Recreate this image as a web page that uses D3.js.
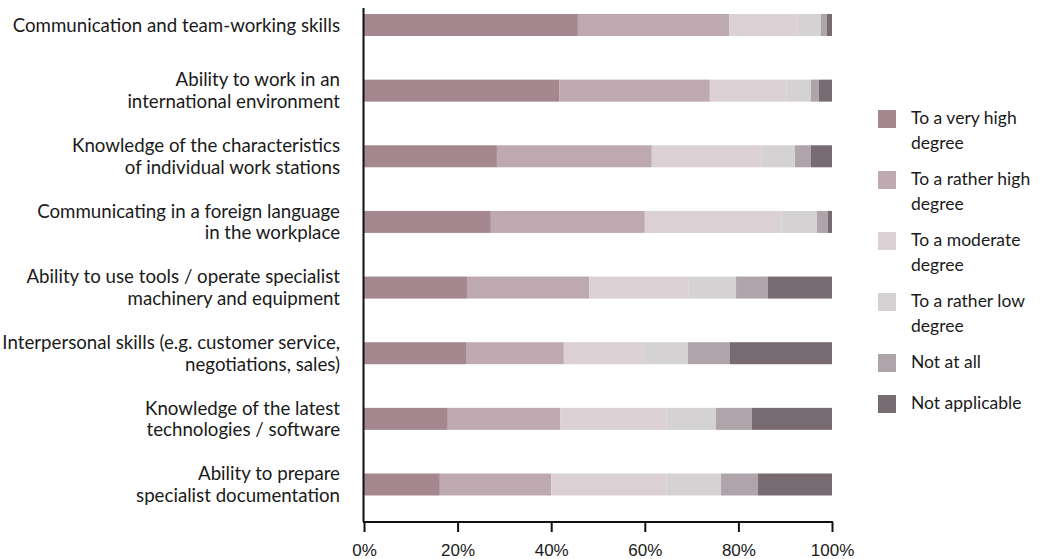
<!DOCTYPE html>
<html><head><meta charset="utf-8">
<script src="https://cdn.jsdelivr.net/npm/d3@7"></script>
<style>
html,body{margin:0;padding:0;background:#fff;overflow:hidden;}
text{font-family:Lato,"Noto Sans",sans-serif;fill:#1a1a1a;}
</style></head>
<body>
<svg id="chart" width="1042" height="559"></svg>
<script>
const categories = [
  ["Communication and team-working skills"],
  ["Ability to work in an","international environment"],
  ["Knowledge of the characteristics","of individual work stations"],
  ["Communicating in a foreign language","in the workplace"],
  ["Ability to use tools / operate specialist","machinery and equipment"],
  ["Interpersonal skills (e.g. customer service,","negotiations, sales)"],
  ["Knowledge of the latest","technologies / software"],
  ["Ability to prepare","specialist documentation"]
];
const seriesNames = [
  ["To a very high","degree"],
  ["To a rather high","degree"],
  ["To a moderate","degree"],
  ["To a rather low","degree"],
  ["Not at all"],
  ["Not applicable"]
];
const veryHigh   = [45.7, 41.7, 28.4, 27.1, 22.0, 21.8, 17.9, 16.2];
const ratherHigh = [32.3, 32.2, 33.1, 32.9, 26.1, 20.9, 24.0, 23.8];
const moderate   = [14.7, 16.3, 23.5, 29.2, 21.3, 17.1, 22.8, 24.7];
const ratherLow  = [ 4.9,  5.3,  7.1,  7.6, 10.1,  9.4, 10.5, 11.6];
const notAtAll   = [ 1.3,  1.7,  3.4,  2.3,  6.8,  9.0,  7.7,  7.9];
const notApplic  = [ 1.1,  2.8,  4.5,  0.9, 13.7, 21.8, 17.1, 15.8];
const tickValues = [0, 20, 40, 60, 80, 100];
const colors = ["#a5878f","#bfa9b0","#dbd1d5","#d5d2d3","#aea4a9","#776a71"];

const series = [veryHigh, ratherHigh, moderate, ratherLow, notAtAll, notApplic];
const keys = ["vh","rh","mo","rl","na","np"];
const rows = categories.map((c,i)=>{
  const o = {idx:i};
  keys.forEach((k,j)=>o[k]=series[j][i]);
  return o;
});
const stacked = d3.stack().keys(keys)(rows);

const svg = d3.select("#chart");
const x = d3.scaleLinear().domain([0,100]).range([364,832]);
const y = d3.scalePoint().domain(d3.range(categories.length)).range([25,484.5]);
const barH = 22;

const g = svg.append("g");
stacked.forEach((layer,j)=>{
  g.selectAll(null).data(layer).enter().append("rect")
    .attr("x",d=>x(d[0]))
    .attr("width",d=>x(d[1])-x(d[0]))
    .attr("y",(d,i)=>y(i)-barH/2)
    .attr("height",barH)
    .attr("fill",colors[j]);
});

// y axis line
svg.append("line").attr("x1",363.5).attr("x2",363.5).attr("y1",8).attr("y2",522)
  .attr("stroke","#111").attr("stroke-width",2);

// category labels
categories.forEach((lines,i)=>{
  const cy = y(i);
  const t = svg.append("text").attr("text-anchor","end").attr("font-size",18.7);
  const n = lines.length;
  lines.forEach((ln,k)=>{
    t.append("tspan").attr("x",340).attr("y",cy + (k-(n-1)/2)*21.5).attr("dy","0.35em").text(ln);
  });
});

// x axis
const xAxis = d3.axisBottom(x).tickValues(tickValues).tickFormat(d=>d+"%").tickSize(10);
const ax = svg.append("g").attr("transform","translate(0,522)").call(xAxis);
ax.select(".domain").attr("stroke","#111").attr("stroke-width",2).attr("d","M363,0H833");
ax.selectAll(".tick line").attr("stroke","#111").attr("stroke-width",2);
ax.selectAll(".tick text").attr("y",28).attr("dy","0.35em").attr("font-size",17).attr("fill","#1a1a1a")
  .style("font-family","'Liberation Sans', Arial, sans-serif");

// legend
const legendY = [110,171,232,293,354,395];
seriesNames.forEach((lines,j)=>{
  const lg = svg.append("g").attr("transform",`translate(878,${legendY[j]})`);
  lg.append("rect").attr("width",18).attr("height",18).attr("fill",colors[j]);
  const t = lg.append("text").attr("font-size",17.5);
  lines.forEach((ln,k)=>{
    t.append("tspan").attr("x",33).attr("y",8+k*24.5).attr("dy","0.35em").text(ln);
  });
});
</script>
</body></html>
